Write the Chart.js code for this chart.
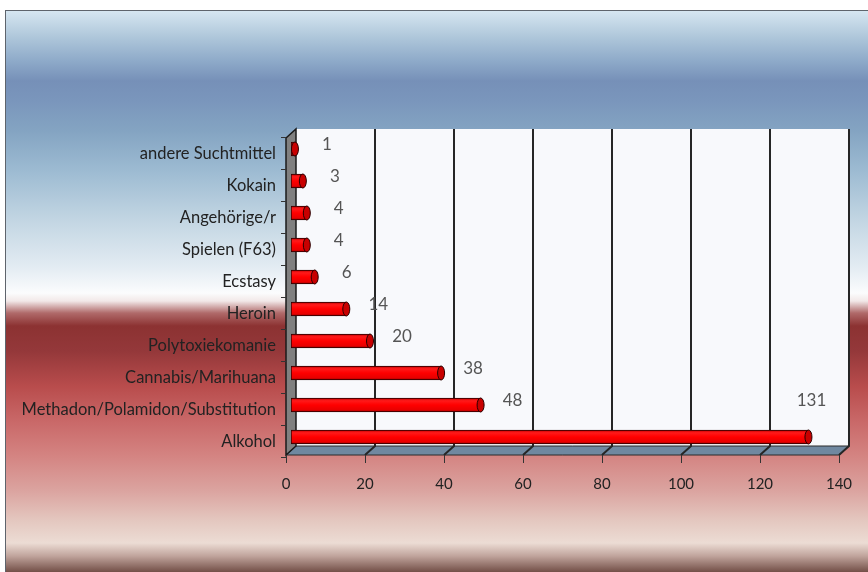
<!DOCTYPE html>
<html>
<head>
<meta charset="utf-8">
<script src="https://cdn.jsdelivr.net/npm/chart.js@4"></script>
<style>
html, body { margin: 0; padding: 0; background: #fff; overflow: hidden; }
#wrap { position: relative; width: 868px; height: 572px; overflow: hidden; }
#fondo {
    position: absolute; left: 5px; top: 10px; width: 900px; height: 600px;
    border-left: 1px solid #5e646c; border-top: 1px solid #5e646c;
    background: linear-gradient(to bottom,
        #d6e6f1 0px, #b0c8db 25px, #8eaac9 50px, #7690b8 70px, #7a96bc 90px,
        #84a4c2 120px, #9dbbd2 160px, #c3d6e3 210px, #e2ebf2 255px, #fbfcfd 282px,
        #f2e8e8 290px, #b06a6a 302px, #8c3232 315px, #94383a 340px, #b84c4c 375px,
        #c96868 410px, #d48482 445px, #dba4a0 480px, #e4c8c0 510px, #ecdcd4 532px,
        #c0a49c 545px, #6e4a42 562px);
}
canvas { position: absolute; left: 0; top: 0; }
</style>
</head>
<body>
<div id="wrap">
    <div id="fondo"></div>
    <canvas id="myChart" width="868" height="572"></canvas>
</div>
<script>
// datos
const categorias = ['andere Suchtmittel', 'Kokain', 'Angehörige/r', 'Spielen (F63)', 'Ecstasy',
    'Heroin', 'Polytoxiekomanie', 'Cannabis/Marihuana', 'Methadon/Polamidon/Substitution', 'Alkohol'];
const valores = [1, 3, 4, 4, 6, 14, 20, 38, 48, 131];
const ticksX = [0, 20, 40, 60, 80, 100, 120, 140];

// profundidad 3D: las barras van en el plano medio
const DX = 10, DY = -9;

// degradado tipo cilindro para cada barra
function colorBarra(context) {
    const chart = context.chart;
    if (!chart.chartArea || !chart.scales.y) return '#ff0000';
    const y = chart.scales.y.getPixelForValue(context.dataIndex);
    const g = chart.ctx.createLinearGradient(0, y - 7, 0, y + 7);
    g.addColorStop(0, '#c00000');
    g.addColorStop(0.2, '#ff1a1a');
    g.addColorStop(0.5, '#ff0000');
    g.addColorStop(0.85, '#e80000');
    g.addColorStop(1, '#900000');
    return g;
}

// paredes, suelo y rejilla en 3D
const fondo3d = {
    id: 'fondo3d',
    beforeDatasetsDraw(chart) {
        const c = chart.ctx, a = chart.chartArea, sx = chart.scales.x, sy = chart.scales.y;
        // plano frontal
        const L = a.left - 5, R = a.right - 5;
        const fTop = a.top + 5, fBot = a.bottom + 2;
        c.save();
        // pared del fondo
        c.fillStyle = '#f8f9fc';
        c.fillRect(L + DX, fTop + DY, R - L, fBot - fTop);
        // suelo
        c.beginPath();
        c.moveTo(L, fBot); c.lineTo(L + DX, fBot + DY); c.lineTo(R + DX, fBot + DY); c.lineTo(R, fBot);
        c.closePath();
        c.fillStyle = '#7088a0';
        c.fill();
        c.strokeStyle = '#2a2a2a'; c.lineWidth = 1; c.stroke();
        // pared izquierda
        c.beginPath();
        c.moveTo(L, fTop); c.lineTo(L + DX, fTop + DY); c.lineTo(L + DX, fBot + DY); c.lineTo(L, fBot);
        c.closePath();
        c.fillStyle = '#808080';
        c.fill();
        c.strokeStyle = '#1a1a1a'; c.lineWidth = 1.5; c.stroke();
        // rejilla
        ticksX.forEach(v => {
            if (v === 0) return;
            const x = sx.getPixelForValue(v) - 5;
            c.beginPath();
            c.moveTo(x + DX, fTop + DY);
            c.lineTo(x + DX, fBot + DY);
            c.lineTo(x, fBot);
            c.lineWidth = 2; c.strokeStyle = '#262626'; c.stroke();
        });
        // marcas eje x
        c.lineWidth = 1; c.strokeStyle = '#333';
        ticksX.forEach(v => {
            const x = Math.round(sx.getPixelForValue(v) - 5) + 0.5;
            c.beginPath(); c.moveTo(x, fBot); c.lineTo(x, fBot + 8); c.stroke();
        });
        // marcas eje y
        for (let i = 0; i <= categorias.length; i++) {
            const y = Math.round(sy.getPixelForValue(i - 0.5)) + 4.5;
            c.beginPath(); c.moveTo(L - 5, y); c.lineTo(L, y); c.stroke();
        }
        c.restore();
    }
};

// tapas de los cilindros y etiquetas de valor
const etiquetas = {
    id: 'etiquetas',
    afterDatasetsDraw(chart) {
        const c = chart.ctx, a = chart.chartArea;
        const meta = chart.getDatasetMeta(0);
        c.save();
        meta.data.forEach((bar, i) => {
            const h = bar.height;
            c.beginPath();
            c.ellipse(bar.x, bar.y, 3.5, h / 2, 0, 0, Math.PI * 2);
            c.fillStyle = '#c80000'; c.fill();
            c.strokeStyle = '#2a0000'; c.lineWidth = 1; c.stroke();

            c.font = '17px Lato';
            c.fillStyle = '#555555';
            c.textAlign = 'center';
            c.textBaseline = 'middle';
            const txt = String(valores[i]);
            const w = c.measureText(txt).width;
            let x = bar.x + 32, y = bar.y - 4;
            if (x + w / 2 > a.right) { x = bar.x + 3; y = bar.y - 36; }
            c.fillText(txt, x, y);
        });
        c.restore();
    }
};

const ctx = document.getElementById('myChart');

new Chart(ctx, {
    type: 'bar',
    data: {
        labels: categorias,
        datasets: [{
            data: valores,
            backgroundColor: colorBarra,
            borderColor: '#2a0000',
            borderWidth: 1,
            borderSkipped: false,
            barThickness: 14
        }]
    },
    options: {
        indexAxis: 'y',
        responsive: false,
        animation: false,
        layout: { padding: { top: 133, right: 24, left: 0, bottom: 0 } },
        plugins: {
            legend: { display: false },
            tooltip: { enabled: false }
        },
        scales: {
            x: {
                min: 0,
                max: 140,
                afterBuildTicks(s) { s.ticks = ticksX.map(v => ({ value: v })); },
                afterFit(s) { s.height = 119; },
                grid: { display: false, drawTicks: true, tickLength: 22 },
                border: { display: false },
                ticks: { padding: 0, labelOffset: -5, color: '#222', font: { family: 'Lato', size: 15 } }
            },
            y: {
                afterFit(s) { s.width = 291; },
                grid: { display: false, drawTicks: false },
                border: { display: false },
                ticks: { padding: 15, labelOffset: 5, color: '#222', font: { family: 'Lato', size: 16.5 } }
            }
        }
    },
    plugins: [fondo3d, etiquetas]
});
</script>
</body>
</html>
